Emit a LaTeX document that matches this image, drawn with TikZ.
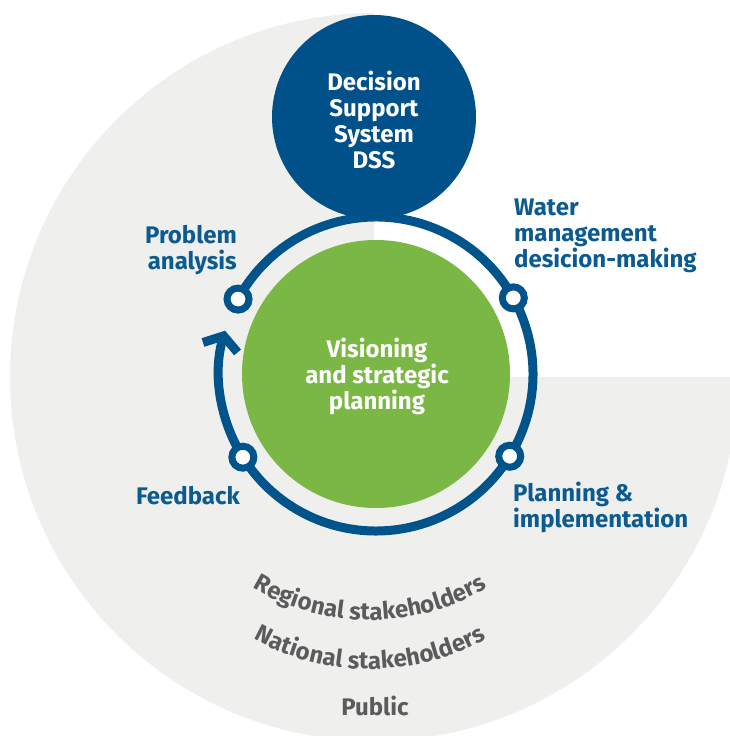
\documentclass[tikz,border=0pt]{standalone}
\usepackage{fontspec}
\setmainfont{Fira Sans}
\usetikzlibrary{arrows.meta,decorations.text,calc}
\definecolor{bg}{HTML}{EFEFEE}
\definecolor{dssc}{HTML}{00508A}
\definecolor{ringc}{HTML}{00548B}
\definecolor{lbl}{HTML}{0B5A90}
\definecolor{grn}{HTML}{7AB744}
\definecolor{gtxt}{HTML}{5B5B5B}
\tikzset{
  ringline/.style={draw=ringc, line width=9pt},
  dot/.style={circle, draw=ringc, line width=7pt, fill=white, minimum size=22pt, inner sep=0pt},
  lab/.style={text=lbl, font=\fontsize{24}{26}\selectfont\bfseries, inner sep=0pt},
  wlab/.style={text=white, font=\fontsize{24}{26}\selectfont\bfseries, inner sep=0pt, align=center},
}
\begin{document}
\begin{tikzpicture}[x=1pt,y=1pt]
\useasboundingbox (0,0) rectangle (730,736);
\clip (0,0) rectangle (730,736);
% grey three-quarter disc
\fill[bg] (374,359) -- (738,359) arc[start angle=0,end angle=-270,radius=364] -- cycle;
\coordinate (C) at (376,362);
% green circle
\node[circle, fill=grn, minimum size=268pt, inner sep=0pt] (green) at (C) {};
\node[wlab] (vis) at (377,360) {Visioning\\and strategic\\planning};
% ring
\draw[ringline] ($(C)+(151.5:157)$) arc[start angle=151.5, end angle=-148, radius=157];
\draw[ringline, -{Straight Barb[length=12pt, width=36pt]}] ($(C)+(212:157)$) arc[start angle=212, end angle=164, radius=157];
% dots
\node[dot] (pa) at ($(C)+(151.5:157)$) {};
\node[dot] (wm) at ($(C)+(29:157)$) {};
\node[dot] (fb) at ($(C)+(212:157)$) {};
\node[dot] (pi) at ($(C)+(-31.6:157)$) {};
% DSS circle
\node[circle, fill=dssc, minimum size=204pt, inner sep=0pt] (dss) at (374,619) {};
\node[wlab] (dsst) at (374,616) {Decision\\Support\\System\\DSS};
% labels
\node[lab, align=right, anchor=east] (pal) at (237,486) {Problem\\analysis};
\node[lab, align=left, anchor=west] (wml) at (514,500) {Water\\management\\desicion-making};
\node[lab, anchor=east] (fbl) at (240,240) {Feedback};
\node[lab, align=left, anchor=west] (pil) at (513,229) {Planning \&\\implementation};
% curved stakeholder texts
\path[decorate, decoration={text along path, text align=center,
  text={|\color{gtxt}\fontsize{24}{24}\selectfont\bfseries|Regional stakeholders}}]
  ($(370,346)+(210:230)$) arc[start angle=210, end angle=330, radius=230];
\path[decorate, decoration={text along path, text align=center,
  text={|\color{gtxt}\fontsize{24}{24}\selectfont\bfseries|National stakeholders}}]
  ($(370,307)+(210:240)$) arc[start angle=210, end angle=330, radius=240];
\node[text=gtxt, font=\fontsize{24}{24}\selectfont\bfseries, inner sep=0pt] (pub) at (375,30) {Public};
\end{tikzpicture}
\end{document}
